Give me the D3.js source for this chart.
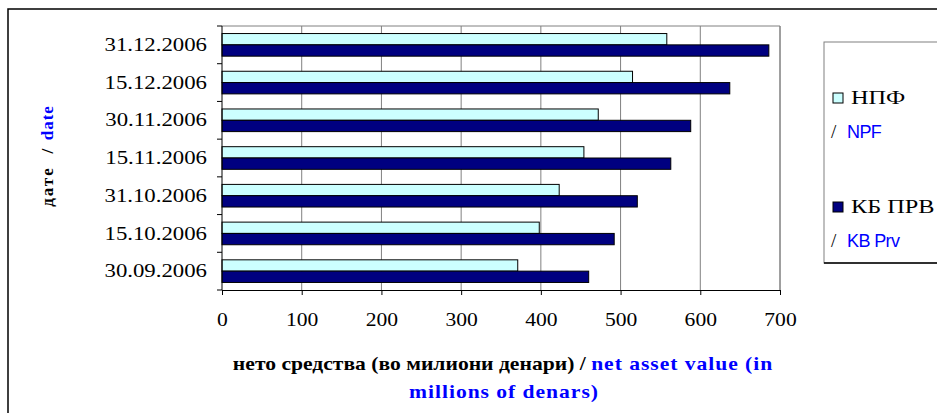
<!DOCTYPE html>
<html>
<head>
<meta charset="utf-8">
<script src="https://cdn.jsdelivr.net/npm/d3@7"></script>
<style>
    body { margin: 0; background: #fff; }
    svg { display: block; }
    .serif { font-family: "Liberation Serif", "Times New Roman", serif; }
    .sans { font-family: "Liberation Sans", Arial, sans-serif; }
</style>
</head>
<body>
<div id="chart"></div>
<script>

// dates, top to bottom as in the picture
let dates = ["31.12.2006", "15.12.2006", "30.11.2006", "15.11.2006", "31.10.2006", "15.10.2006", "30.09.2006"];

// net asset value, millions of denars
let npfValues = [558, 515, 472, 454, 423, 398, 371];
let kbValues = [686, 637, 588, 563, 521, 492, 460];

let seriesKeys = ["npf", "kb"];
let seriesColors = {npf: "#ccffff", kb: "#000080"};

let xTicks = [0, 100, 200, 300, 400, 500, 600, 700];

let W = 937, H = 413;
let stretch = 1.2;   // the text in the picture is a bit wider than normal

let svg = d3.select("#chart").append("svg")
    .attr("width", W)
    .attr("height", H);

// outer chart border
svg.append("rect")
    .attr("x", 8).attr("y", 9)
    .attr("width", W).attr("height", H)
    .attr("fill", "none")
    .attr("stroke", "#000")
    .attr("stroke-width", 1.5);

let plot = {left: 222, right: 780, top: 26, bottom: 290};

let x = d3.scaleLinear()
    .domain([0, 700])
    .range([plot.left, plot.right]);

let y0 = d3.scaleBand()
    .domain(dates)
    .range([plot.top, plot.bottom])
    .paddingInner(0.4)
    .paddingOuter(0.2);

let y1 = d3.scaleBand()
    .domain(seriesKeys)
    .range([0, y0.bandwidth()]);

// gridlines
svg.append("g")
    .selectAll("line")
    .data(xTicks.slice(1))
    .enter().append("line")
    .attr("x1", d => x(d)).attr("x2", d => x(d))
    .attr("y1", plot.top).attr("y2", plot.bottom)
    .attr("stroke", "#808080")
    .attr("stroke-width", 1);

// top border of plot area
svg.append("line")
    .attr("x1", plot.left).attr("x2", plot.right)
    .attr("y1", plot.top).attr("y2", plot.top)
    .attr("stroke", "#808080");

// bars
let rows = dates.map((d, i) => ({date: d, npf: npfValues[i], kb: kbValues[i]}));

let groups = svg.append("g")
    .selectAll("g")
    .data(rows)
    .enter().append("g")
    .attr("transform", d => `translate(0,${y0(d.date)})`);

groups.selectAll("rect")
    .data(d => seriesKeys.map(k => ({key: k, value: d[k]})))
    .enter().append("rect")
    .attr("x", x(0))
    .attr("y", d => y1(d.key))
    .attr("width", d => x(d.value) - x(0))
    .attr("height", y1.bandwidth())
    .attr("fill", d => seriesColors[d.key])
    .attr("stroke", "#000")
    .attr("stroke-width", 1);

// axes
let xAxis = d3.axisBottom(x)
    .tickValues(xTicks)
    .tickSize(5)
    .tickPadding(18);

let xAxisGroup = svg.append("g")
    .attr("class", "serif")
    .attr("transform", `translate(0,${plot.bottom})`)
    .call(xAxis);

xAxisGroup.select(".domain").attr("stroke", "#000");
xAxisGroup.selectAll("text")
    .attr("font-size", 18)
    .attr("transform", `scale(${stretch},1)`)
    .attr("fill", "#000");

let yAxis = d3.axisLeft(y0)
    .tickSize(0)
    .tickPadding(15);

let yAxisGroup = svg.append("g")
    .attr("class", "serif")
    .attr("transform", `translate(${plot.left},0)`)
    .call(yAxis);

yAxisGroup.select(".domain").remove();
yAxisGroup.selectAll("text")
    .attr("font-size", 19)
    .attr("x", -15 / stretch)
    .attr("transform", `scale(${stretch},1)`)
    .attr("fill", "#000");

// y axis line and ticks at the band edges
svg.append("line")
    .attr("x1", plot.left).attr("x2", plot.left)
    .attr("y1", plot.top).attr("y2", plot.bottom)
    .attr("stroke", "#000");

let yTickPos = dates.map(d => y0(d) - y0.step() * y0.paddingInner() / 2).concat([plot.bottom]);

svg.append("g")
    .selectAll("line")
    .data(yTickPos)
    .enter().append("line")
    .attr("x1", plot.left - 5).attr("x2", plot.left)
    .attr("y1", d => d)
    .attr("y2", d => d)
    .attr("stroke", "#000");

// right border of plot area
svg.append("line")
    .attr("x1", plot.right).attr("x2", plot.right)
    .attr("y1", plot.top).attr("y2", plot.bottom)
    .attr("stroke", "#808080");

// x axis title
let xTitle = svg.append("g")
    .attr("transform", `translate(503,370) scale(${stretch},1)`)
    .append("text")
    .attr("class", "serif")
    .attr("text-anchor", "middle")
    .attr("font-size", 18)
    .attr("font-weight", "bold");

xTitle.append("tspan").attr("fill", "#000").text("нето средства (во милиони денари) / ");
xTitle.append("tspan").attr("fill", "#0000ff").attr("letter-spacing", 0.8).text("net asset value (in");

svg.append("g")
    .attr("transform", `translate(504,398) scale(${stretch},1)`)
    .append("text")
    .attr("class", "serif")
    .attr("text-anchor", "middle")
    .attr("font-size", 18)
    .attr("font-weight", "bold")
    .attr("letter-spacing", 0.8)
    .attr("fill", "#0000ff")
    .text("millions of denars)");

// y axis title
let yTitle = svg.append("text")
    .attr("class", "serif")
    .attr("text-anchor", "middle")
    .attr("font-size", 17)
    .attr("font-weight", "bold")
    .style("white-space", "pre")
    .attr("transform", "translate(53,156) rotate(-90)");

yTitle.append("tspan").attr("fill", "#000").attr("letter-spacing", 2).text("дате");
yTitle.append("tspan").attr("fill", "#000").text("   /  ");
yTitle.append("tspan").attr("fill", "#0000ff").attr("letter-spacing", 1).text("date");

// legend
let legend = svg.append("g");

legend.append("rect")
    .attr("x", 824).attr("y", 42)
    .attr("width", 130).attr("height", 221)
    .attr("fill", "#fff")
    .attr("stroke", "#808080");

legend.append("line")
    .attr("x1", 824).attr("x2", W)
    .attr("y1", 263).attr("y2", 263)
    .attr("stroke", "#000")
    .attr("stroke-width", 1.5);

let legendItems = [
    {key: "npf", mk: "НПФ", en: "NPF", y: 93},
    {key: "kb", mk: "КБ ПРВ", en: "KB Prv", y: 202}
];

legendItems.forEach(d => {
    legend.append("rect")
        .attr("x", 833).attr("y", d.y)
        .attr("width", 10).attr("height", 10)
        .attr("fill", seriesColors[d.key])
        .attr("stroke", "#000")
        .attr("stroke-width", 1);
    legend.append("g")
        .attr("transform", `translate(851,${d.y + 11}) scale(1.28,1)`)
        .append("text")
        .attr("class", "serif")
        .attr("font-size", 19)
        .attr("fill", "#000")
        .text(d.mk);
    legend.append("text")
        .attr("class", "serif")
        .attr("x", 831).attr("y", d.y + 45)
        .attr("font-size", 19)
        .attr("fill", "#000")
        .text("/");
    legend.append("text")
        .attr("class", "sans")
        .attr("x", 847).attr("y", d.y + 45)
        .attr("font-size", 18)
        .attr("letter-spacing", -0.6)
        .attr("fill", "#0000ff")
        .text(d.en);
});

</script>
</body>
</html>
